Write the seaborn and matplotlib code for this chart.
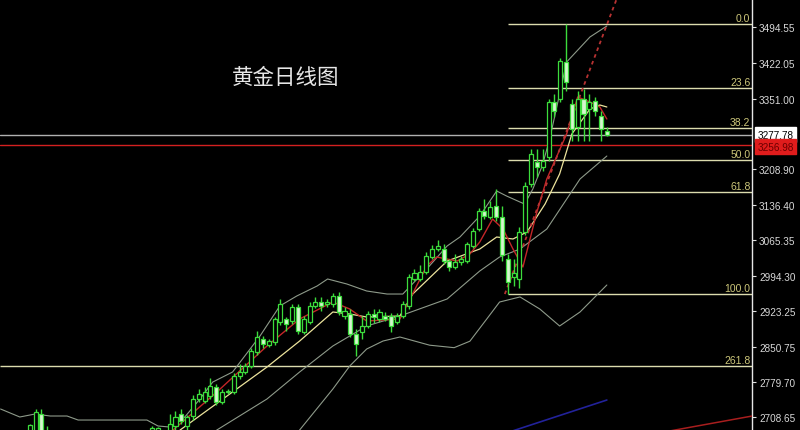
import matplotlib
matplotlib.use("Agg")
import matplotlib.pyplot as plt
import seaborn as sns
import numpy as np
import pandas as pd

# ---------------- data ----------------
title = "黄金日线图"
days = [4, 5, 6, 7] + list(range(25, 104))
opens = [2670, 2680, 2715, 2680,
         2672, 2675, 2680, 2676, 2691, 2715, 2691, 2711, 2746, 2742, 2752, 2770, 2740, 2759, 2760, 2792,
         2800, 2812, 2840, 2867, 2854, 2860, 2901, 2907, 2903, 2931, 2881, 2901, 2933, 2941, 2937, 2937,
         2953, 2913, 2917, 2877, 2881, 2893, 2917, 2907, 2913, 2913, 2901, 2913, 2933, 2987, 2987, 3002,
         3032, 3048, 3048, 3024, 3012, 3022, 3024, 3054, 3088, 3124, 3112, 3135, 3112, 3028, 2991, 2987,
         3082, 3179, 3223, 3213, 3233, 3344, 3350, 3425, 3340, 3294, 3350, 3330, 3346, 3316, 3286]
highs = [2695, 2725, 2725, 2691,
         2692, 2690, 2683, 2715, 2721, 2725, 2713, 2754, 2766, 2770, 2788, 2776, 2765, 2766, 2798, 2816,
         2818, 2848, 2883, 2873, 2866, 2911, 2947, 2911, 2937, 2937, 2912, 2941, 2951, 2951, 2947, 2959,
         2961, 2931, 2927, 2887, 2913, 2922, 2927, 2927, 2920, 2919, 2919, 2943, 2997, 3008, 3016, 3042,
         3056, 3066, 3058, 3028, 3038, 3033, 3062, 3090, 3130, 3149, 3145, 3169, 3135, 3038, 3028, 3092,
         3183, 3249, 3249, 3249, 3350, 3360, 3433, 3501, 3350, 3366, 3370, 3360, 3354, 3326, 3294]
lows = [2665, 2670, 2665, 2660,
        2665, 2670, 2668, 2670, 2683, 2695, 2683, 2703, 2740, 2737, 2746, 2734, 2735, 2755, 2756, 2786,
        2796, 2808, 2834, 2848, 2850, 2854, 2895, 2883, 2897, 2877, 2876, 2897, 2929, 2923, 2931, 2931,
        2915, 2907, 2871, 2832, 2867, 2888, 2899, 2900, 2902, 2881, 2896, 2909, 2927, 2983, 2984, 2997,
        3027, 3043, 3018, 3004, 3007, 3016, 3020, 3050, 3084, 3108, 3108, 3104, 3024, 2957, 2973, 2969,
        3076, 3173, 3193, 3205, 3225, 3314, 3344, 3366, 3266, 3266, 3266, 3266, 3316, 3266, 3276]
closes = [2693, 2719, 2675, 2670,
          2688, 2687, 2676, 2695, 2709, 2701, 2709, 2746, 2756, 2760, 2772, 2740, 2760, 2762, 2792, 2800,
          2812, 2842, 2871, 2856, 2863, 2907, 2937, 2897, 2931, 2883, 2907, 2933, 2941, 2933, 2941, 2953,
          2921, 2923, 2877, 2856, 2893, 2917, 2911, 2921, 2907, 2893, 2913, 2937, 2991, 3000, 3002, 3034,
          3048, 3054, 3024, 3012, 3022, 3028, 3058, 3084, 3124, 3114, 3133, 3112, 3036, 2981, 3000, 3082,
          3175, 3239, 3213, 3225, 3344, 3326, 3427, 3384, 3290, 3350, 3320, 3344, 3326, 3290, 3278]

# indicator lines (day index, price)
bb_upper_x = [-1, 2.3, 4.9, 7.5, 10.4, 12.3, 24.1, 26, 28, 30.6, 33.2, 35.4, 38.8, 43.5, 46.9, 49.8, 53.3,
              55.1, 58.4, 61.8, 65.3, 68, 72.1, 75.6, 77.8, 81.2, 84.1, 85.8, 88.1, 88.9, 90.3, 91.9, 93.2,
              96.1, 100.1, 103]
bb_upper_y = [2725.4, 2709.3, 2715.3, 2711.3, 2711.3, 2703.2, 2703.2, 2691.2, 2689.1, 2709.3, 2745.6,
              2779.8, 2800.0, 2872.5, 2933.0, 2953.1, 2973.3, 2987.4, 2977.3, 2963.2, 2957.1, 2957.1,
              3007.5, 3053.9, 3072.0, 3114.3, 3164.7, 3154.6, 3142.5, 3138.5, 3168.7, 3215.1, 3269.5,
              3424.6, 3475.0, 3497.2]
bb_mid_x = [33.2, 36.1, 44.7, 50.3, 56, 61.8, 67.5, 75.6, 81.2, 84.6, 88.1, 92.7, 98.4, 103]
bb_mid_y = [2654.9, 2683.1, 2745.6, 2800.0, 2852.4, 2892.7, 2912.8, 2947.1, 3003.5, 3031.7, 3047.8,
            3088.1, 3188.9, 3235.2]
bb_lower_x = [48.6, 50.3, 56, 58.9, 61.8, 64.6, 67.5, 72.6, 76.8, 79.5, 82.4, 84.6, 88.1, 91.5, 94.9,
              98.4, 103]
bb_lower_y = [2654.9, 2683.1, 2765.7, 2812.1, 2846.3, 2862.4, 2870.5, 2854.0, 2849.0, 2862.0, 2906.8,
              2941.0, 2951.2, 2926.9, 2892.7, 2920.9, 2975.3]
ma10_x = [28.9, 29.8, 44.7, 50.3, 56, 58.9, 61.8, 67.5, 69.7, 75.6, 81.2, 84.1, 86.9, 89.3, 92.4, 94.9,
          97, 100.1, 101.8, 103]
ma10_y = [2654.9, 2683.1, 2810.0, 2862.4, 2920.9, 2916.8, 2910.8, 2912.8, 2957.1, 3023.6, 3047.8,
          3072.0, 3068.0, 3082.1, 3138.5, 3199.0, 3279.6, 3329.9, 3338.0, 3334.0]
ma5_x = [26.3, 28.6, 36.1, 44.7, 50.3, 56, 58.9, 61.8, 67.5, 72.1, 73.8, 77.3, 79.5, 81.2, 83.4, 85.2,
         86.9, 88.6, 91, 92.7, 96.1, 98, 100.1, 101.8, 103]
ma5_y = [2654.9, 2683.1, 2759.7, 2852.4, 2906.8, 2941.0, 2926.9, 2902.7, 2906.8, 3013.6, 3031.7,
         3023.6, 3037.7, 3061.9, 3108.3, 3088.1, 3047.8, 3011.6, 3122.4, 3188.9, 3279.6, 3354.1,
         3344.0, 3334.0, 3309.8]
trend_x = [85.5, 105.5]
trend_y = [2957.1, 3577.0]
blue_x = [86.0, 103.0]
blue_y = [2678.0, 2743.5]
red2_x = [113.5, 128.5]
red2_y = [2680.5, 2712.5]

fib_labels = ["0.0", "23.6", "38.2", "50.0", "61.8", "100.0"]
fib_prices = [3501.2, 3372.3, 3291.7, 3227.2, 3162.7, 2957.1]
fib_start = 86
ext_label = "261.8"
ext_price = 2812.1

bid_price = 3277.78
red_price = 3256.98
tick_values = [3494.55, 3422.05, 3351.00, 3208.90, 3136.40, 3065.35, 2994.30,
               2923.25, 2850.75, 2779.70, 2708.65]

# ---------------- style ----------------
sns.set_theme(style="dark")
plt.rcParams['font.family'] = ['Noto Sans CJK SC', 'DejaVu Sans']
num_font = ["Liberation Sans", "DejaVu Sans"]

fig = plt.figure(figsize=(8, 4.31), dpi=100, facecolor="black")
ax = fig.add_axes([0, 0, 752 / 800, 1])
ax.set_facecolor("black")
XMIN, XMAX = -1.1, 127.9
YMIN, YMAX = 2683.1, 3551.6
ax.set_xlim(XMIN, XMAX)
ax.set_ylim(YMIN, YMAX)
ax.grid(False)

# lines
band_col = "#8e9a8a"
df_lines = [
    (bb_upper_x, bb_upper_y, band_col, 0.8),
    (bb_mid_x, bb_mid_y, band_col, 0.8),
    (bb_lower_x, bb_lower_y, band_col, 0.8),
    (ma10_x, ma10_y, "#ece39c", 0.9),
    (ma5_x, ma5_y, "#c42628", 1.0),
]
for xs, ys, col, lw in df_lines:
    sns.lineplot(x=xs, y=ys, ax=ax, color=col, linewidth=lw, estimator=None, sort=False, zorder=3)

ax.plot(trend_x, trend_y, color="#b83232", linewidth=1.3, linestyle=(0, (2, 2)), zorder=3)
ax.plot(blue_x, blue_y, color="#22229a", linewidth=1.2, zorder=3)
ax.plot(red2_x, red2_y, color="#a81e1e", linewidth=1.1, zorder=3)

# candles
o = np.array(opens, float); h = np.array(highs, float)
l = np.array(lows, float); c = np.array(closes, float)
d = np.array(days, float)
ax.vlines(d, l, h, color="#3cdc3c", linewidth=1.0, zorder=4)
bull = c >= o
body_bottom = np.minimum(o, c)
body_h = np.maximum(np.abs(c - o), 1.2)
faces = np.where(bull, "black", "#d6f6cf")
ax.bar(d, body_h, bottom=body_bottom, width=0.7, color=list(faces),
       edgecolor="#3cdc3c", linewidth=0.9, zorder=5)

# fibonacci lines
fib_col = "#dcdcae"
for lab, pr in zip(fib_labels, fib_prices):
    ax.hlines(pr, fib_start, XMAX, color=fib_col, linewidth=1.0, zorder=2)
    ax.annotate(lab, xy=(0.998, pr), xycoords=("axes fraction", "data"),
                xytext=(0, 1), textcoords="offset points", ha="right", va="bottom",
                fontsize=7.5, color="#cdc77a", family=num_font)
ax.hlines(ext_price, XMIN, XMAX, color=fib_col, linewidth=1.0, zorder=2)
ax.annotate(ext_label, xy=(0.998, ext_price), xycoords=("axes fraction", "data"),
            xytext=(0, 1), textcoords="offset points", ha="right", va="bottom",
            fontsize=7.5, color="#cdc77a", family=num_font)

# price lines
ax.axhline(bid_price, color="#b0b0b0", linewidth=1.0, zorder=2)
ax.axhline(red_price, color="#d42020", linewidth=1.0, zorder=2)

# axis
for s in ["top", "left", "bottom"]:
    ax.spines[s].set_visible(False)
ax.spines["right"].set_visible(True)
ax.spines["right"].set_color("#e6e6e6")
ax.spines["right"].set_linewidth(1.0)
ax.set_xticks([])
ax.yaxis.tick_right()
ax.set_yticks(tick_values)
ax.set_yticklabels([f"{v:.2f}" for v in tick_values])
ax.tick_params(axis="y", colors="#e0e0e0", labelcolor="#d8d8d8", labelsize=7.2,
               length=3, width=0.8, direction="out", pad=2, right=True, left=False)
for t in ax.get_yticklabels():
    t.set_family(num_font)

ax.annotate(f"{bid_price:.2f}", xy=(1.0, bid_price), xycoords=("axes fraction", "data"),
            xytext=(4, 0), textcoords="offset points", ha="left", va="center",
            fontsize=7.2, color="black", family=num_font, annotation_clip=False,
            bbox=dict(boxstyle="square,pad=0.25", facecolor="white", edgecolor="white"))
ax.annotate(f"{red_price:.2f}", xy=(1.0, red_price), xycoords=("axes fraction", "data"),
            xytext=(4, -1), textcoords="offset points", ha="left", va="center",
            fontsize=7.2, color="#6a0000", family=num_font, annotation_clip=False,
            bbox=dict(boxstyle="square,pad=0.25", facecolor="#e01c1c", edgecolor="#e01c1c"))

fig.text(232 / 800, 1 - 78 / 431, title, fontsize=15.5, color="#e6e6e6",
         ha="left", va="center", family=["Noto Sans CJK SC", "DejaVu Sans"])

fig.savefig("out.png", dpi=100, facecolor="black")
